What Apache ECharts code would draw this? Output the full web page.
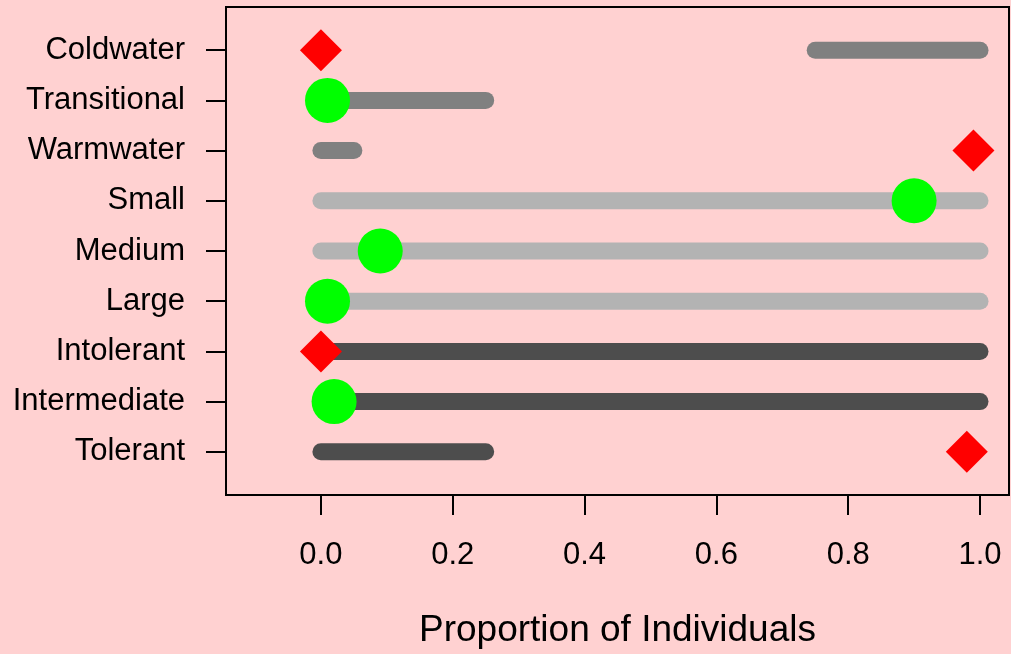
<!DOCTYPE html>
<html>
<head>
<meta charset="utf-8">
<script src="https://cdn.jsdelivr.net/npm/echarts@6/dist/echarts.min.js"></script>
<style>
html,body{margin:0;padding:0;background:#FFD1D1;}
#chart{width:1011px;height:654px;}
</style>
</head>
<body>
<div id="chart"></div>
<script>
// Categories listed bottom to top (y position = index + 1)
const categories = ['Tolerant','Intermediate','Intolerant','Large','Medium','Small','Warmwater','Transitional','Coldwater'];
const groupOf = ['tolerance','tolerance','tolerance','size','size','size','thermal','thermal','thermal'];
const rangeLow  = [0,    0, 0, 0, 0, 0, 0,    0,    0.75];
const rangeHigh = [0.25, 1, 1, 1, 1, 1, 0.05, 0.25, 1];
const circleValues  = [null, 0.02, null, 0.01, 0.09, 0.90, null, 0.01, null];
const diamondValues = [0.98, null, 0,    null, null, null, 0.99, null, 0];
const xTicks = [0, 0.2, 0.4, 0.6, 0.8, 1.0];
const xTitle = 'Proportion of Individuals';

const groupColor = {thermal:'#808080', size:'#B3B3B3', tolerance:'#4D4D4D'};
const FONT = '"Liberation Sans", Arial, sans-serif';

const segData = categories.map((c,i)=>[rangeLow[i], rangeHigh[i], i+1, i]);
const circData = [], diaData = [];
categories.forEach((c,i)=>{
  if (circleValues[i] !== null) circData.push([circleValues[i], i+1]);
  if (diamondValues[i] !== null) diaData.push([diamondValues[i], i+1]);
});

const chart = echarts.init(document.getElementById('chart'));
chart.setOption({
  backgroundColor:'#FFD1D1',
  animation:false,
  grid:{left:226, top:7, width:783, height:490, show:true, borderColor:'#000', borderWidth:2, backgroundColor:'transparent'},
  xAxis:{
    type:'value', min:-0.144, max:1.044,
    splitLine:{show:false},
    axisLine:{show:false, onZero:false},
    axisTick:{show:true, length:20, inside:false, customValues:xTicks, lineStyle:{color:'#000', width:2}},
    axisLabel:{customValues:xTicks, margin:45, fontSize:31, fontFamily:FONT, color:'#000',
      formatter:v=>v.toFixed(1)},
    name:xTitle, nameLocation:'middle', nameGap:117,
    nameTextStyle:{fontSize:37, fontFamily:FONT, color:'#000'}
  },
  yAxis:{
    type:'value', min:0.14, max:9.86,
    splitLine:{show:false},
    axisLine:{show:false, onZero:false},
    axisTick:{show:true, length:20, customValues:categories.map((c,i)=>i+1), lineStyle:{color:'#000', width:2}},
    axisLabel:{customValues:categories.map((c,i)=>i+1), margin:41, fontSize:31, fontFamily:FONT, color:'#000',
      padding:[4,0,0,0],
      formatter:v=>categories[Math.round(v)-1]}
  },
  series:[
    {
      type:'custom', z:2,
      data:segData,
      renderItem:function(params, api){
        const p1 = api.coord([api.value(0), api.value(2)]);
        const p2 = api.coord([api.value(1), api.value(2)]);
        const idx = api.value(3);
        return {type:'line', shape:{x1:p1[0], y1:p1[1], x2:p2[0], y2:p2[1]},
          style:{stroke:groupColor[groupOf[idx]], lineWidth:17, lineCap:'round'}};
      },
      encode:{x:[0,1], y:2}
    },
    {
      type:'scatter', z:3, symbol:'circle', symbolSize:45,
      itemStyle:{color:'#00FF00', opacity:1}, data:circData
    },
    {
      type:'scatter', z:3, symbol:'diamond', symbolSize:42,
      itemStyle:{color:'#FF0000', opacity:1}, data:diaData
    }
  ]
});
</script>
</body>
</html>
